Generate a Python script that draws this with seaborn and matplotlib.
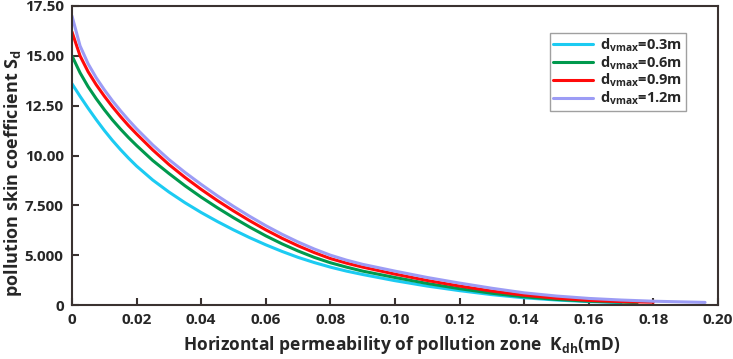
import pandas as pd
import seaborn as sns
import matplotlib.pyplot as plt

# curves (y in axis units; the bottom tick is labelled "0")
k_03 = [0, 0.0025, 0.005, 0.0075, 0.01, 0.0125, 0.015, 0.0175, 0.02, 0.025, 0.03, 0.035, 0.04, 0.045,
        0.05, 0.055, 0.06, 0.065, 0.07, 0.075, 0.08, 0.085, 0.09, 0.10, 0.11, 0.12, 0.13, 0.14, 0.15,
        0.16, 0.17]
s_03 = [13.6, 12.97, 12.37, 11.8, 11.26, 10.76, 10.3, 9.87, 9.47, 8.77, 8.17, 7.63, 7.14, 6.69,
        6.27, 5.88, 5.52, 5.19, 4.89, 4.63, 4.4, 4.2, 4.03, 3.72, 3.45, 3.22, 3.02, 2.86, 2.75,
        2.67, 2.62]

k_06 = [0, 0.0025, 0.005, 0.0075, 0.01, 0.0125, 0.015, 0.0175, 0.02, 0.025, 0.03, 0.035, 0.04, 0.045,
        0.05, 0.055, 0.06, 0.065, 0.07, 0.075, 0.08, 0.085, 0.09, 0.10, 0.11, 0.12, 0.13, 0.14, 0.15,
        0.16, 0.175]
s_06 = [15.0, 14.15, 13.45, 12.85, 12.3, 11.79, 11.33, 10.9, 10.5, 9.75, 9.1, 8.48, 7.91, 7.38,
        6.88, 6.41, 5.97, 5.57, 5.21, 4.89, 4.62, 4.4, 4.2, 3.88, 3.58, 3.32, 3.09, 2.91, 2.78,
        2.69, 2.62]

k_09 = [0, 0.0025, 0.005, 0.0075, 0.01, 0.0125, 0.015, 0.0175, 0.02, 0.025, 0.03, 0.035, 0.04, 0.045,
        0.05, 0.055, 0.06, 0.065, 0.07, 0.075, 0.08, 0.085, 0.09, 0.10, 0.11, 0.12, 0.13, 0.14, 0.15,
        0.16, 0.17, 0.18]
s_09 = [16.2, 15.0, 14.2, 13.55, 12.98, 12.45, 11.96, 11.5, 11.08, 10.28, 9.55, 8.9, 8.3, 7.74,
        7.22, 6.73, 6.27, 5.85, 5.47, 5.13, 4.83, 4.6, 4.4, 4.05, 3.73, 3.45, 3.2, 2.99, 2.84,
        2.73, 2.67, 2.64]

k_12 = [0, 0.0025, 0.005, 0.0075, 0.01, 0.0125, 0.015, 0.0175, 0.02, 0.025, 0.03, 0.035, 0.04, 0.045,
        0.05, 0.055, 0.06, 0.065, 0.07, 0.075, 0.08, 0.085, 0.09, 0.10, 0.11, 0.12, 0.13, 0.14, 0.15,
        0.16, 0.17, 0.18, 0.196]
s_12 = [17.0, 15.5, 14.6, 13.9, 13.3, 12.75, 12.25, 11.78, 11.34, 10.53, 9.8, 9.15, 8.55, 7.98,
        7.45, 6.95, 6.48, 6.05, 5.66, 5.31, 5.0, 4.75, 4.54, 4.2, 3.88, 3.6, 3.34, 3.11, 2.95,
        2.83, 2.75, 2.69, 2.63]

series_names = ['0.3m', '0.6m', '0.9m', '1.2m']
colors = ['#1ccbf2', '#00994d', '#ff0a0a', '#9c9cf5']

ytick_vals = [2.5, 5, 7.5, 10, 12.5, 15, 17.5]
ytick_labels = ['0', '5.000', '7.500', '10.00', '12.50', '15.00', '17.50']
xtick_vals = [0, 0.02, 0.04, 0.06, 0.08, 0.10, 0.12, 0.14, 0.16, 0.18, 0.20]
xtick_labels = ['0', '0.02', '0.04', '0.06', '0.08', '0.10', '0.12', '0.14', '0.16', '0.18', '0.20']

frames = []
for name, k, s in zip(series_names, [k_03, k_06, k_09, k_12], [s_03, s_06, s_09, s_12]):
    frames.append(pd.DataFrame({'k': k, 's': s, 'd': r'd$_{\rm vmax}$=' + name}))
df = pd.concat(frames, ignore_index=True)

sns.set_style("ticks")
plt.rcParams['font.family'] = ['Open Sans', 'DejaVu Sans']
plt.rcParams['font.weight'] = 'bold'
plt.rcParams['mathtext.fontset'] = 'custom'
plt.rcParams['mathtext.rm'] = 'Open Sans:bold'
plt.rcParams['mathtext.it'] = 'Open Sans:bold'
plt.rcParams['mathtext.bf'] = 'Open Sans:bold'

fig = plt.figure(figsize=(7.33, 3.59), dpi=100)
ax = fig.add_axes([0.0982, 0.1504, 0.8813, 0.8329])

palette = dict(zip(df['d'].unique(), colors))
sns.lineplot(data=df, x='k', y='s', hue='d', palette=palette, linewidth=2.2,
             sort=False, estimator=None, ax=ax)

ax.set_xlim(0, 0.20)
ax.set_ylim(2.5, 17.5)
ax.set_xticks(xtick_vals)
ax.set_xticklabels(xtick_labels)
ax.set_yticks(ytick_vals)
ax.set_yticklabels(ytick_labels)
ax.tick_params(direction='in', length=5, width=1.5, color='#3a3230', labelsize=11, pad=6)

for sp in ax.spines.values():
    sp.set_color('#3a3230')
    sp.set_linewidth(1.5)

ax.set_xlabel(r'Horizontal permeability of pollution zone  K$_{\rm dh}$(mD)', fontsize=12.5, fontweight='bold')
ax.xaxis.set_label_coords(0.51, -0.098)
ax.set_ylabel(r'pollution skin coefficient S$_{\rm d}$', fontsize=13, fontweight='bold')
ax.yaxis.set_label_coords(-0.075, 0.44)

leg = ax.legend(loc='upper right', bbox_to_anchor=(0.95, 0.91), title=None, fontsize=10.5,
                frameon=True, fancybox=False, handlelength=2.7, handletextpad=0.5,
                labelspacing=0.02, borderpad=0.25, borderaxespad=0)
leg.get_frame().set_edgecolor('#888888')
leg.get_frame().set_linewidth(1.0)

plt.savefig('out.png', dpi=100)
